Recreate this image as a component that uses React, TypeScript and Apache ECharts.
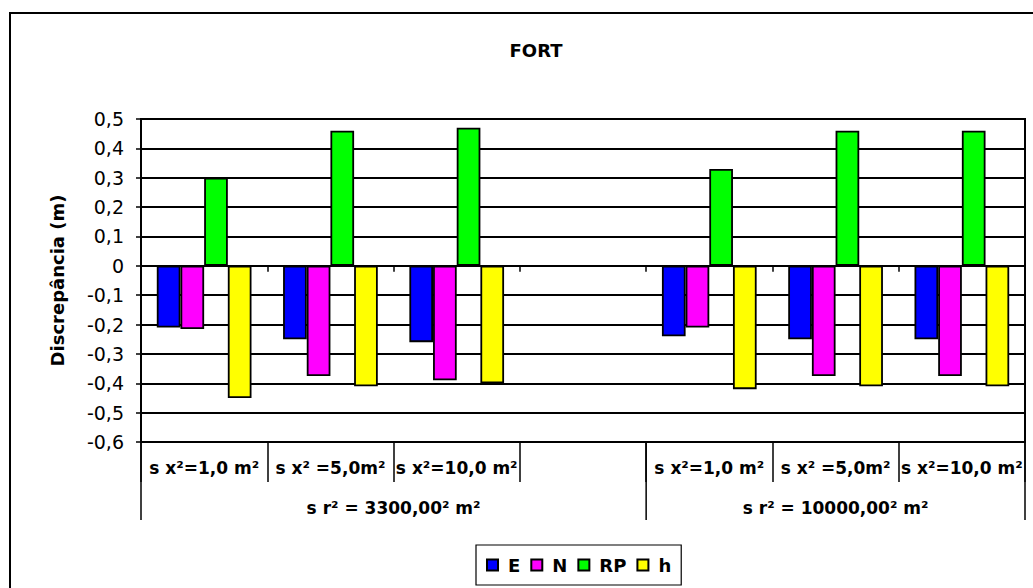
import React, { useEffect, useRef } from "react";
import * as echarts from "echarts";

const chartTitle = "FORT";
const yAxisTitle = "Discrepância (m)";
const xLabels = ["s x²=1,0 m²", "s x² =5,0m²", "s x²=10,0 m²", "", "s x²=1,0 m²", "s x² =5,0m²", "s x²=10,0 m²"];
const groupLabels = ["s r² = 3300,00² m²", "s r² = 10000,00² m²"];
const groupSpans = [[0, 4], [4, 7]];
const seriesNames = ["E", "N", "RP", "h"];
const seriesColors = ["#0000FF", "#FF00FF", "#00FF00", "#FFFF00"];
const valuesE = [-0.21, -0.25, -0.26, null, -0.24, -0.25, -0.25];
const valuesN = [-0.215, -0.375, -0.39, null, -0.21, -0.375, -0.375];
const valuesRP = [0.3, 0.46, 0.47, null, 0.33, 0.46, 0.46];
const valuesH = [-0.45, -0.41, -0.4, null, -0.42, -0.41, -0.41];
const yMin = -0.6;
const yMax = 0.5;
const yStep = 0.1;

const FONT = "DejaVu Sans";

export default function App() {
  const ref = useRef<HTMLDivElement>(null);
  useEffect(() => {
    if (!ref.current) return;
    const chart = echarts.init(ref.current, null, { renderer: "svg" });
    const allValues = [valuesE, valuesN, valuesRP, valuesH];
    const option: any = {
      animation: false,
      backgroundColor: "#ffffff",
      grid: {
        left: 141,
        right: 8,
        top: 119,
        bottom: 146,
        show: true,
        borderColor: "#000",
        borderWidth: 2,
        backgroundColor: "transparent",
      },
      legend: {
        data: seriesNames,
        left: 476,
        top: 545,
        orient: "horizontal",
        icon: "rect",
        itemWidth: 11,
        itemHeight: 11,
        itemGap: 10,
        borderColor: "#000",
        borderWidth: 1.2,
        padding: [11, 10, 11, 10],
        textStyle: {
          fontFamily: FONT,
          fontWeight: "bold",
          fontSize: 18,
          color: "#000",
          padding: [0, 0, 0, 5],
        },
      },
      xAxis: [
        {
          type: "category",
          data: xLabels,
          gridIndex: 0,
          axisLine: { show: true, onZero: true, lineStyle: { color: "#000", width: 2 } },
          axisTick: { show: true, length: 6, lineStyle: { color: "#000", width: 1.5 } },
          axisLabel: { show: false },
          splitLine: { show: false },
        },
        {
          type: "category",
          data: xLabels,
          gridIndex: 0,
          position: "bottom",
          axisLine: { show: false, onZero: false },
          axisTick: { show: true, length: 40, lineStyle: { color: "#000", width: 1.5 } },
          axisLabel: {
            show: true,
            interval: 0,
            margin: 17,
            fontFamily: FONT,
            fontWeight: "bold",
            fontSize: 17,
            color: "#000",
          },
          splitLine: { show: false },
        },
      ],
      yAxis: {
        type: "value",
        min: yMin,
        max: yMax,
        interval: yStep,
        name: yAxisTitle,
        nameLocation: "middle",
        nameRotate: 90,
        nameGap: 75,
        nameTextStyle: { fontFamily: FONT, fontWeight: "bold", fontSize: 18, color: "#000" },
        axisLine: { show: true, lineStyle: { color: "#000", width: 2 } },
        axisTick: { show: true, length: 5, lineStyle: { color: "#000", width: 1.5 } },
        axisLabel: {
          margin: 17,
          fontFamily: FONT,
          fontSize: 19,
          color: "#000",
          formatter: (v: number) => {
            const r = Math.round(v * 10) / 10;
            if (r === 0) return "0";
            return r.toFixed(1).replace(".", ",");
          },
        },
        splitLine: { show: true, lineStyle: { color: "#000", width: 2 } },
      },
      series: seriesNames.map((name, i) => ({
        name,
        type: "bar",
        xAxisIndex: 0,
        data: allValues[i],
        barGap: "0%",
        barCategoryGap: "25%",
        itemStyle: { color: seriesColors[i], borderColor: "#000", borderWidth: 1.8 },
      })),
    };
    chart.setOption(option);

    const c0 = chart.convertToPixel({ xAxisIndex: 0 }, 0) as number;
    const c1 = chart.convertToPixel({ xAxisIndex: 0 }, 1) as number;
    const w = c1 - c0;
    const boundary = (i: number) => c0 + (i - 0.5) * w;
    const yBottom = chart.convertToPixel({ yAxisIndex: 0 }, yMin) as number;
    const graphics: any[] = [
      {
        type: "rect",
        id: "outer",
        shape: { x: 10, y: 13, width: 1100, height: 700 },
        style: { fill: "none", stroke: "#000", lineWidth: 2 },
        silent: true,
      },
      {
        type: "text",
        id: "title",
        x: 536,
        y: 50,
        style: {
          text: chartTitle,
          fontFamily: FONT,
          fontWeight: "bold",
          fontSize: 18,
          fill: "#000",
          align: "center",
          verticalAlign: "middle",
        },
      },
    ];
    const sepIdx = new Set<number>();
    groupSpans.forEach((s) => {
      sepIdx.add(s[0]);
      sepIdx.add(s[1]);
    });
    Array.from(sepIdx).forEach((i) => {
      const x = boundary(i);
      graphics.push({
        type: "line",
        id: "sep" + i,
        shape: { x1: x, y1: yBottom, x2: x, y2: yBottom + 78 },
        style: { stroke: "#000", lineWidth: 1.5 },
      });
    });
    groupSpans.forEach((s, gi) => {
      const cx = (boundary(s[0]) + boundary(s[1])) / 2;
      graphics.push({
        type: "text",
        id: "grp" + gi,
        x: cx,
        y: yBottom + 66,
        style: {
          text: groupLabels[gi],
          fontFamily: FONT,
          fontWeight: "bold",
          fontSize: 17,
          fill: "#000",
          align: "center",
          verticalAlign: "middle",
        },
      });
    });
    chart.setOption({ graphic: graphics });

    return () => {
      chart.dispose();
    };
  }, []);
  return (
    <div
      ref={ref}
      style={{ position: "fixed", left: 0, top: 0, width: 1033, height: 588, background: "#fff" }}
    />
  );
}
